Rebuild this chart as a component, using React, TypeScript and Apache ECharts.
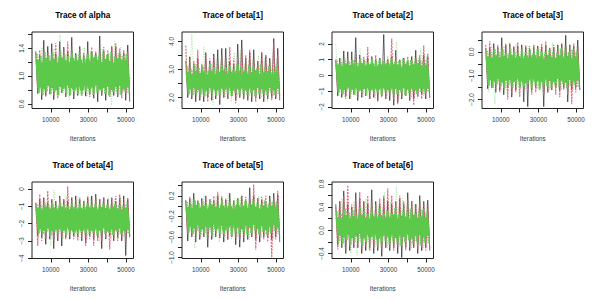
import React, { useEffect, useRef } from "react";
import * as echarts from "echarts";

const titles = ["Trace of alpha", "Trace of beta[1]", "Trace of beta[2]", "Trace of beta[3]", "Trace of beta[4]", "Trace of beta[5]", "Trace of beta[6]"];
const xTicks = [10000, 20000, 30000, 40000, 50000];
const xLabels = [10000, 30000, 50000];
const xMin = 0;
const xMax = 54000;
const firstIter = 2000;
const lastIter = 52000;

const yRanges = [[0.5325, 1.6385], [1.61, 4.33], [-2.106, 2.76], [-2.378, 0.839], [-4.02, 0.404], [-1.02, 0.47], [-0.486, 0.834]];
const yTicks = [
  [0.6, 0.8, 1.0, 1.2, 1.4, 1.6],
  [2, 2.5, 3, 3.5, 4],
  [-2, -1, 0, 1, 2],
  [-2, -1.5, -1, -0.5, 0, 0.5],
  [-4, -3, -2, -1, 0],
  [-1, -0.8, -0.6, -0.4, -0.2, 0, 0.2, 0.4],
  [-0.4, -0.2, 0, 0.2, 0.4, 0.6, 0.8],
];
const yLabels = [
  [0.6, 1.0, 1.4],
  [2, 3, 4],
  [-2, -1, 0, 1, 2],
  [-2, -1, 0],
  [-4, -3, -2, -1, 0],
  [-1, -0.6, -0.2, 0.2],
  [-0.4, 0, 0.4, 0.8],
];
const yDecimals = [1, 1, 0, 1, 0, 1, 1];

// chain 1 (black): alternating upper and lower swings
const black0 = [1.36,.75,1.30,.66,1.52,.72,1.43,.74,1.47,.66,1.32,.73,1.50,.76,1.42,.70,1.35,.72,1.56,.67,1.33,.72,1.43,.78,1.30,.71,1.50,.74,1.35,.68,1.33,.63,1.58,.72,1.36,.65,1.32,.74,1.42,.72,1.43,.70,1.33,.76,1.34,.65,1.45,.63];
const black1 = [3.3,2.0,3.45,1.95,3.2,1.85,3.4,1.9,3.1,1.85,3.6,2.0,3.3,1.9,3.55,1.95,3.7,1.75,3.75,2.0,3.75,1.95,3.3,2.05,3.2,1.9,3.9,2.0,4.05,1.95,3.4,1.9,3.6,1.85,3.7,2.0,3.3,1.95,3.6,1.85,3.5,1.95,3.4,2.0,4.1,1.95,3.75,1.9];
const black2 = [1.0,-1.3,1.1,-1.4,1.55,-1.3,1.5,-1.5,1.5,-1.2,2.4,-1.6,1.3,-1.4,1.0,-1.3,1.1,-1.5,1.2,-1.4,1.0,-1.6,1.1,-1.3,2.6,-1.5,1.0,-1.6,1.2,-1.9,1.6,-1.7,1.0,-1.5,1.1,-1.3,0.9,-1.6,1.2,-1.5,1.6,-1.3,1.0,-1.2,1.3,-1.5,1.2,-1.4];
const black3 = [0.15,-1.55,0.2,-1.5,0.35,-1.7,0.2,-1.6,0.6,-1.8,0.3,-1.5,0.35,-1.9,0.2,-1.6,0.25,-1.5,0.3,-2.1,0.2,-2.3,0.1,-1.6,0.2,-1.5,0.25,-1.4,0.2,-2.3,0.3,-1.7,0.15,-1.6,0.2,-1.5,0.3,-1.6,0.35,-1.5,0.7,-2.1,0.3,-1.6,0.25,-1.5,0.5,-1.6];
const black4 = [-0.8,-2.7,-0.6,-2.8,-0.5,-3.2,-0.8,-2.9,-0.6,-3.45,-0.7,-3.0,-0.4,-3.3,-0.6,-2.8,-0.7,-2.9,-0.5,-2.7,-0.4,-2.8,-0.6,-3.0,-0.7,-3.1,-0.5,-2.7,-0.4,-2.9,-0.3,-2.8,-0.6,-3.45,-0.5,-2.9,-0.6,-2.7,-0.5,-3.0,-0.7,-2.8,-0.5,-3.0,-0.4,-3.85,-0.6,-2.8];
const black5 = [0.12,-0.68,0.15,-0.6,0.25,-0.7,0.1,-0.65,0.15,-0.6,0.2,-0.8,0.12,-0.65,0.1,-0.6,0.2,-0.62,0.15,-0.7,0.12,-0.65,0.25,-0.6,0.1,-0.75,0.15,-0.8,0.2,-0.7,0.1,-0.65,0.36,-0.6,0.2,-0.65,0.15,-0.7,0.12,-0.6,0.1,-0.62,0.2,-0.65,0.25,-0.6,0.22,-0.7];
const black6 = [0.45,-0.25,0.5,-0.3,0.68,-0.4,0.45,-0.35,0.4,-0.3,0.65,-0.3,0.55,-0.4,0.5,-0.35,0.45,-0.3,0.7,-0.4,0.5,-0.35,0.45,-0.45,0.55,-0.3,0.5,-0.35,0.45,-0.3,0.5,-0.4,0.55,-0.47,0.45,-0.3,0.65,-0.35,0.5,-0.3,0.45,-0.4,0.6,-0.35,0.5,-0.3,0.52,-0.35];

// chain 2 (pink)
const pink0 = [1.33,.78,1.38,.72,1.30,.70,1.35,.76,1.28,.72,1.48,.68,1.32,.78,1.40,.72,1.50,.74,1.36,.70,1.30,.76,1.40,.72,1.34,.78,1.32,.70,1.42,.74,1.36,.76,1.30,.72,1.42,.74,1.38,.70,1.44,.76,1.48,.72,1.40,.68,1.38,.74,1.36,.72];
const pink1 = [3.85,2.05,3.4,2.0,3.3,2.1,3.7,1.95,3.2,2.0,3.55,1.85,3.4,2.0,3.5,2.05,3.2,1.9,3.5,2.0,3.3,1.95,3.8,2.05,3.4,1.8,3.3,2.0,3.75,2.05,3.5,1.9,3.7,2.0,3.35,1.85,3.3,2.0,3.6,1.95,3.5,2.05,3.3,1.9,3.95,2.0,3.5,2.05];
const pink2 = [0.9,-1.1,1.0,-1.2,0.9,-1.5,1.1,-1.3,1.0,-1.2,1.3,-1.4,1.0,-1.3,1.2,-1.2,1.8,-1.5,1.1,-1.3,1.3,-1.7,1.0,-1.4,0.9,-1.5,1.2,-1.3,2.35,-1.6,1.2,-1.85,1.0,-1.4,1.1,-1.3,1.2,-1.5,0.9,-1.9,1.1,-1.4,1.3,-1.5,1.9,-1.3,1.4,-1.55];
const pink3 = [0.3,-1.4,0.45,-1.5,0.2,-1.6,0.3,-1.7,0.2,-1.6,0.35,-2.0,0.3,-1.8,0.25,-1.7,0.4,-1.9,0.2,-1.6,0.3,-1.5,0.25,-1.8,0.3,-1.7,0.2,-1.6,0.35,-1.8,0.45,-1.7,0.2,-1.6,0.3,-1.8,0.25,-1.9,0.3,-1.6,0.2,-1.8,0.3,-2.2,0.35,-1.7,0.25,-1.6];
const pink4 = [-0.8,-3.3,-0.3,-3.0,-0.6,-2.9,-0.1,-2.8,-0.6,-3.0,-0.7,-2.9,-0.5,-2.8,-0.6,-2.9,0.15,-2.7,-0.5,-2.9,-0.6,-3.0,-0.5,-2.8,-0.7,-3.3,-0.4,-2.9,-0.6,-3.3,-0.5,-3.0,-0.6,-3.0,-0.5,-2.8,-0.7,-3.5,-0.5,-2.9,-0.4,-3.0,-0.3,-2.8,-0.6,-3.0,-0.5,-2.7];
const pink5 = [0.1,-0.55,0.18,-0.6,0.15,-0.55,0.12,-0.62,0.1,-0.6,0.18,-0.65,0.14,-0.6,0.2,-0.58,0.28,-0.62,0.2,-0.6,0.15,-0.65,0.18,-0.6,0.12,-0.62,0.15,-0.66,0.2,-0.6,0.18,-0.62,0.15,-0.6,0.42,-0.85,0.16,-0.6,0.18,-0.65,0.2,-0.7,0.15,-1.0,0.18,-0.65,0.3,-0.62];
const pink6 = [0.4,-0.33,0.5,-0.3,0.6,-0.35,0.78,-0.28,0.45,-0.3,0.55,-0.3,0.66,-0.35,0.5,-0.28,0.6,-0.35,0.5,-0.3,0.45,-0.3,0.55,-0.35,0.6,-0.28,0.72,-0.3,0.6,-0.35,0.5,-0.3,0.6,-0.28,0.5,-0.35,0.55,-0.3,0.5,-0.28,0.45,-0.33,0.5,-0.3,0.48,-0.35,0.45,-0.33];

// chain 3 (green): occasional dotted excursions
const green0 = [1.35,.74,1.42,.76,1.30,.78,1.40,.72,1.60,.74,1.32,.66,1.38,.78,1.34,.74,1.42,.72,1.36,.70,1.32,.76,1.40,.74,1.34,.58,1.50,.72,1.42,.78,1.36,.72];
const green1 = [3.7,2.05,4.25,2.1,3.3,2.0,3.8,2.05,3.2,1.75,3.35,2.1,3.4,2.0,3.3,1.85,3.6,2.05,3.7,1.9,3.3,2.05,3.35,1.95,3.5,2.0,3.4,1.85,3.3,2.05,3.4,2.0];
const green2 = [2.0,-1.3,1.1,-1.4,1.2,-1.5,1.0,-1.3,1.7,-1.4,1.1,-1.3,1.2,-1.5,0.9,-1.4,1.3,-1.3,1.0,-1.5,2.15,-1.4,1.1,-1.3,1.0,-1.4,1.2,-1.5,1.7,-1.3,1.2,-1.4];
const green3 = [0.2,-1.7,0.3,-2.2,0.2,-1.6,0.25,-1.7,0.4,-1.6,0.35,-1.8,0.2,-1.6,0.25,-1.7,0.3,-1.6,0.2,-1.8,0.25,-1.6,0.4,-1.7,0.3,-1.6,0.2,-1.8,0.3,-1.6,0.2,-1.7];
const green4 = [-0.8,-2.8,-0.7,-2.9,-0.5,-3.3,-0.05,-2.8,-0.6,-2.9,-0.4,-2.7,-0.7,-2.8,-0.5,-2.9,-0.6,-2.8,-0.5,-2.7,-0.6,-3.1,-0.7,-2.8,-0.5,-2.9,-0.6,-3.0,-0.5,-2.8,-0.7,-2.7];
const green5 = [0.1,-0.6,0.15,-0.82,0.12,-0.6,0.18,-0.65,0.15,-0.62,0.2,-0.7,0.12,-0.6,0.25,-0.65,0.15,-0.6,0.18,-0.62,0.12,-0.65,0.15,-0.6,0.2,-0.62,0.12,-0.6,0.15,-0.65,0.1,-0.6];
const green6 = [0.45,-0.25,0.55,-0.3,0.45,-0.4,0.5,-0.43,0.45,-0.3,0.55,-0.32,0.5,-0.28,0.45,-0.3,0.66,-0.3,0.5,-0.35,0.75,-0.28,0.55,-0.3,0.5,-0.32,0.45,-0.28,0.5,-0.3,0.45,-0.26];

// chain 3 (green): the dotted fringe of the trace's body
const fringe0 = [1.32,.76,1.29,.73,1.35,.78,1.30,.74,1.34,.77,1.28,.72,1.36,.79,1.31,.75,1.29,.73,1.33,.77,1.30,.74,1.35,.72,1.28,.78,1.32,.75,1.36,.73,1.30,.76,1.29,.79,1.34,.74,1.31,.72,1.35,.77,1.28,.75,1.33,.73,1.30,.78,1.32,.74];
const fringe1 = [3.1,2.12,3.02,2.08,3.18,2.16,3.05,2.1,3.14,2.05,3.0,2.14,3.2,2.18,3.08,2.07,3.03,2.12,3.16,2.09,3.06,2.15,3.12,2.06,3.0,2.17,3.19,2.1,3.07,2.13,3.02,2.08,3.15,2.16,3.1,2.05,3.04,2.11,3.17,2.14,3.08,2.07,3.13,2.18,3.01,2.09,3.1,2.13];
const fringe2 = [0.95,-1.1,0.85,-1.2,1.05,-1.02,0.9,-1.15,1.0,-1.25,0.87,-1.05,1.08,-1.12,0.92,-1.22,0.85,-1.0,1.02,-1.18,0.9,-1.08,1.06,-1.24,0.88,-1.1,0.96,-1.02,1.1,-1.16,0.86,-1.2,0.93,-1.06,1.04,-1.25,0.9,-1.12,0.98,-1.03,0.86,-1.18,1.07,-1.08,0.92,-1.22,1.0,-1.1];
const fringe3 = [0.05,-1.42,-0.02,-1.5,0.12,-1.36,0,-1.46,0.08,-1.54,-0.05,-1.4,0.15,-1.48,0.02,-1.38,-0.03,-1.52,0.1,-1.44,0,-1.36,0.06,-1.5,-0.04,-1.42,0.13,-1.55,0.03,-1.38,-0.02,-1.46,0.09,-1.52,0.01,-1.4,-0.05,-1.48,0.14,-1.36,0.04,-1.54,0,-1.44,0.11,-1.38,0.02,-1.5];
const fringe4 = [-0.9,-2.55,-0.98,-2.62,-0.82,-2.48,-0.94,-2.68,-0.85,-2.52,-1.0,-2.6,-0.8,-2.46,-0.92,-2.66,-0.97,-2.5,-0.84,-2.58,-0.95,-2.7,-0.88,-2.48,-1.0,-2.55,-0.81,-2.64,-0.93,-2.5,-0.86,-2.68,-0.98,-2.46,-0.83,-2.6,-0.9,-2.54,-0.96,-2.66,-0.85,-2.48,-0.92,-2.62,-0.99,-2.52,-0.87,-2.58];
const fringe5 = [0.08,-0.5,0.04,-0.54,0.12,-0.48,0.06,-0.56,0.1,-0.52,0.03,-0.5,0.13,-0.57,0.07,-0.49,0.04,-0.53,0.11,-0.55,0.05,-0.48,0.09,-0.58,0.03,-0.51,0.12,-0.54,0.06,-0.49,0.1,-0.56,0.04,-0.52,0.13,-0.48,0.07,-0.55,0.03,-0.5,0.11,-0.57,0.05,-0.53,0.09,-0.49,0.08,-0.54];
const fringe6 = [0.32,-0.19,0.28,-0.23,0.37,-0.17,0.3,-0.25,0.35,-0.21,0.29,-0.18,0.4,-0.26,0.33,-0.2,0.28,-0.24,0.36,-0.17,0.31,-0.27,0.38,-0.21,0.29,-0.19,0.34,-0.25,0.3,-0.18,0.39,-0.23,0.28,-0.27,0.35,-0.2,0.32,-0.17,0.37,-0.24,0.29,-0.19,0.33,-0.26,0.36,-0.21,0.31,-0.22];

// chain 3 (green): the dense body of the trace
const core0 = [1.24,.84,1.20,.81,1.26,.86,1.22,.83,1.25,.80,1.19,.85,1.27,.82,1.23,.87,1.20,.83,1.26,.81,1.22,.85,1.24,.80,1.18,.86,1.25,.82,1.21,.84,1.27,.87,1.23,.81,1.20,.83,1.25,.85,1.22,.80,1.19,.84,1.26,.86,1.23,.82,1.24,.84];
const core1 = [2.9,2.3,2.82,2.35,2.95,2.27,2.86,2.33,2.92,2.25,2.8,2.36,2.94,2.3,2.84,2.26,2.9,2.34,2.96,2.28,2.83,2.37,2.91,2.25,2.87,2.32,2.95,2.29,2.81,2.35,2.93,2.26,2.85,2.33,2.9,2.28,2.96,2.36,2.82,2.3,2.88,2.25,2.94,2.34,2.84,2.28,2.9,2.32];
const core2 = [0.7,-0.85,0.6,-0.92,0.75,-0.78,0.65,-0.9,0.72,-0.82,0.56,-0.95,0.78,-0.86,0.62,-0.8,0.68,-0.94,0.74,-0.84,0.58,-0.9,0.7,-0.78,0.64,-0.88,0.76,-0.95,0.6,-0.82,0.72,-0.86,0.66,-0.92,0.56,-0.8,0.74,-0.9,0.62,-0.84,0.7,-0.95,0.78,-0.82,0.64,-0.88,0.68,-0.85];
const core3 = [-0.2,-1.18,-0.26,-1.24,-0.15,-1.14,-0.22,-1.28,-0.17,-1.2,-0.28,-1.16,-0.13,-1.26,-0.24,-1.12,-0.19,-1.22,-0.27,-1.3,-0.16,-1.18,-0.23,-1.14,-0.12,-1.25,-0.25,-1.2,-0.18,-1.28,-0.29,-1.15,-0.14,-1.22,-0.21,-1.26,-0.26,-1.12,-0.15,-1.2,-0.23,-1.3,-0.18,-1.16,-0.27,-1.24,-0.2,-1.2];
const core4 = [-1.1,-2.33,-1.18,-2.4,-1.04,-2.28,-1.14,-2.44,-1.08,-2.36,-1.2,-2.3,-1.02,-2.42,-1.12,-2.26,-1.17,-2.38,-1.06,-2.46,-1.15,-2.32,-1.09,-2.4,-1.2,-2.27,-1.03,-2.36,-1.13,-2.44,-1.07,-2.3,-1.18,-2.4,-1.05,-2.26,-1.11,-2.46,-1.16,-2.34,-1.04,-2.38,-1.14,-2.28,-1.19,-2.42,-1.1,-2.35];
const core5 = [-0.01,-0.4,-0.04,-0.43,0.02,-0.37,-0.03,-0.45,0,-0.39,-0.05,-0.42,0.03,-0.36,-0.02,-0.44,-0.04,-0.38,0.01,-0.46,-0.03,-0.41,0,-0.37,-0.06,-0.43,0.02,-0.4,-0.02,-0.45,0.01,-0.38,-0.04,-0.42,0.03,-0.36,-0.01,-0.44,-0.05,-0.39,0.01,-0.46,-0.03,-0.41,0,-0.37,-0.01,-0.42];
const core6 = [0.23,-0.09,0.2,-0.12,0.26,-0.07,0.21,-0.13,0.24,-0.1,0.19,-0.06,0.27,-0.14,0.22,-0.08,0.2,-0.11,0.25,-0.07,0.21,-0.14,0.26,-0.1,0.19,-0.08,0.24,-0.12,0.22,-0.06,0.27,-0.13,0.2,-0.09,0.25,-0.11,0.23,-0.07,0.19,-0.14,0.26,-0.1,0.21,-0.08,0.24,-0.12,0.22,-0.1];

const blacks = [black0, black1, black2, black3, black4, black5, black6];
const pinks = [pink0, pink1, pink2, pink3, pink4, pink5, pink6];
const greens = [green0, green1, green2, green3, green4, green5, green6];
const fringes = [fringe0, fringe1, fringe2, fringe3, fringe4, fringe5, fringe6];
const cores = [core0, core1, core2, core3, core4, core5, core6];

const FONT = "Liberation Sans";
const INK = "#222";
const TXT = "#3c3c3c";

const toXY = (vals: number[], a = firstIter, b = lastIter) =>
  vals.map((v, i) => [a + (i * (b - a)) / (vals.length - 1), v]);

const fmtY = (v: number, d: number) => {
  const s = Math.abs(v).toFixed(d);
  return v < 0 ? "\u2212" + s : s;
};

export default function App() {
  const ref = useRef<HTMLDivElement>(null);
  useEffect(() => {
    document.body.style.margin = "0";
    const chart = echarts.init(ref.current!, undefined, { renderer: "svg" });
    const grid: any[] = [], xAxis: any[] = [], yAxis: any[] = [], series: any[] = [], title: any[] = [];
    titles.forEach((t, p) => {
      const col = p % 4, row = Math.floor(p / 4);
      const left = 32 + 150 * col, top = 32 + 150 * row;
      grid.push({ left, top, width: 101.5, height: 76.5, show: true, borderColor: INK, borderWidth: 1, backgroundColor: "transparent", outerBoundsMode: "none" });
      title.push({
        text: t, left: left + 50.7, top: top - 20.5, textAlign: "center", padding: 0,
        textStyle: { fontFamily: FONT, fontSize: 8.2, fontWeight: "bold", color: "#000" },
      });
      xAxis.push({
        type: "value", gridIndex: p, min: xMin, max: xMax, splitLine: { show: false },
        axisLine: { show: false, onZero: false },
        axisTick: { show: true, length: 4, customValues: xTicks, lineStyle: { color: INK, width: 1 } },
        axisLabel: { show: true, customValues: xLabels, margin: 8, formatter: (v: number) => String(v), fontFamily: FONT, fontSize: 6.3, color: TXT },
        name: "Iterations", nameLocation: "middle", nameGap: 27,
        nameTextStyle: { fontFamily: FONT, fontSize: 6.3, color: TXT },
      });
      yAxis.push({
        type: "value", gridIndex: p, min: yRanges[p][0], max: yRanges[p][1], splitLine: { show: false },
        axisLine: { show: false, onZero: false },
        axisTick: { show: true, length: 4, customValues: yTicks[p], lineStyle: { color: INK, width: 1 } },
        axisLabel: { show: true, customValues: yLabels[p], rotate: 90, margin: 8, formatter: (v: number) => fmtY(v, yDecimals[p]), fontFamily: FONT, fontSize: 6.3, color: TXT },
      });
      const mk = (data: number[][], color: string, type: any, width: number, opacity = 1) => ({
        type: "line", xAxisIndex: p, yAxisIndex: p, data, showSymbol: false, silent: true,
        lineStyle: { color, type, width, opacity, join: "bevel" }, itemStyle: { color },
      });
      series.push(mk(toXY(blacks[p]), "#000000", "solid", 0.7, 0.8));
      series.push(mk(toXY(pinks[p]), "#DF536B", [2, 1.2], 1.1, 0.9));
      series.push(mk(toXY(greens[p]), "#61D04F", [1, 1.5], 0.7, 0.75));
      series.push(mk(toXY(fringes[p], 2600, 51400), "#61D04F", [1.5, 1], 2.4, 0.9));
      series.push(mk(toXY(cores[p], 3000, 51000), "#5CC94B", "solid", 4.2));
    });
    chart.setOption({ animation: false, backgroundColor: "#fff", title, grid, xAxis, yAxis, series, tooltip: { show: false } });
    return () => chart.dispose();
  }, []);
  return <div ref={ref} style={{ width: 600, height: 300 }} />;
}
